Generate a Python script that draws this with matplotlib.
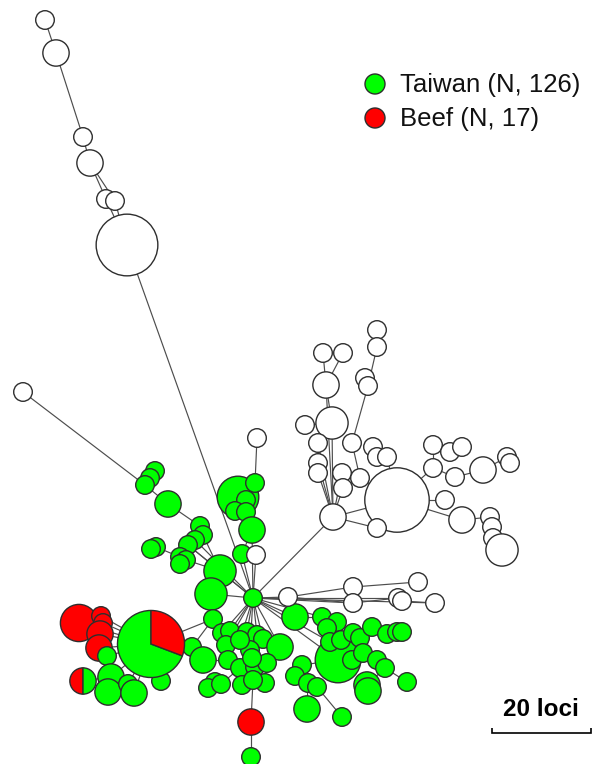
import numpy as np
import matplotlib.pyplot as plt
from matplotlib.patches import Circle, Wedge

# ===== Nodes: (id, x, y, isolates) on the layout grid =====
white_chain = [("w1", 45, 20, 1), ("w2", 56, 53, 2), ("w3", 83, 137, 1), ("w4", 90, 163, 2),
               ("w5", 106, 199, 1), ("w6", 115, 201, 1), ("w7", 127, 245, 11)]

white_misc = [("wL", 23, 392, 1), ("wT", 257, 438, 1), ("wC", 256, 555, 1),
              ("wl1", 288, 597, 1), ("wl2", 353, 587, 1), ("wl3", 418, 582, 1), ("wl4", 353, 603, 1),
              ("wl5", 398, 598, 1), ("wl6", 402, 601, 1), ("wl7", 435, 603, 1)]

white_right = [("wh", 333, 517, 2), ("wB", 397, 500, 12),
               ("a1", 377, 330, 1), ("a2", 377, 347, 1), ("a3", 323, 353, 1), ("a4", 343, 353, 1),
               ("a5", 326, 385, 2), ("a6", 365, 378, 1), ("a7", 368, 386, 1), ("a8", 332, 423, 3),
               ("a9", 305, 425, 1), ("a10", 318, 443, 1), ("a11", 352, 443, 1), ("a12", 373, 447, 1),
               ("a13", 377, 457, 1), ("a14", 387, 457, 1), ("a15", 318, 463, 1), ("a16", 318, 473, 1),
               ("a17", 342, 473, 1), ("a18", 360, 478, 1), ("a19", 343, 488, 1), ("a20", 377, 528, 1),
               ("b1", 433, 445, 1), ("b2", 450, 452, 1), ("b3", 462, 447, 1), ("b4", 433, 468, 1),
               ("b5", 455, 477, 1), ("b6", 483, 470, 2), ("b7", 507, 457, 1), ("b8", 510, 463, 1),
               ("b9", 445, 500, 1), ("b10", 462, 520, 2), ("b11", 490, 517, 1), ("b12", 492, 527, 1),
               ("b13", 493, 538, 1), ("b14", 502, 550, 3)]

beef_nodes = [("R1", 79, 623, 4), ("R2", 101, 616, 1), ("R3", 103, 623, 1), ("R4", 100, 634, 2),
              ("R5", 99, 648, 2), ("R6", 251, 722, 2)]

green_upper = [("g1", 155, 471, 1), ("g2", 150, 478, 1), ("g3", 145, 485, 1), ("g4", 168, 504, 2),
               ("g5", 200, 526, 1), ("g6", 203, 535, 1), ("g7", 195, 540, 1), ("g8", 188, 545, 1),
               ("g9", 156, 547, 1), ("g10", 151, 549, 1), ("g11", 180, 557, 1), ("g12", 186, 560, 1),
               ("g13", 180, 564, 1), ("g14", 220, 571, 3), ("g15", 211, 594, 3), ("g16", 213, 619, 1),
               ("g17", 238, 497, 5), ("g18", 255, 483, 1), ("g19", 246, 500, 1), ("g20", 235, 511, 1),
               ("g21", 246, 512, 1), ("g22", 252, 530, 2), ("g23", 242, 554, 1), ("G0", 253, 598, 1)]

green_left = [("p1", 107, 656, 1), ("p2", 111, 677, 2), ("p3", 108, 692, 2), ("p4", 128, 684, 1),
              ("p5", 134, 693, 2), ("p6", 161, 681, 1)]

green_mid = [("m1", 192, 647, 1), ("m2", 203, 660, 2), ("m3", 222, 633, 1), ("m4", 230, 631, 1),
             ("m5", 247, 632, 1), ("m6", 257, 635, 1), ("m7", 263, 639, 1), ("m8", 226, 645, 1),
             ("m9", 280, 647, 2), ("m10", 250, 650, 1), ("m11", 228, 660, 1), ("m12", 240, 668, 1),
             ("m13", 255, 667, 1), ("m14", 267, 663, 1), ("m15", 215, 682, 1), ("m16", 208, 688, 1),
             ("m17", 221, 684, 1), ("m18", 242, 685, 1), ("m19", 265, 683, 1), ("m20", 252, 658, 1),
             ("m21", 240, 640, 1), ("m22", 253, 680, 1), ("gb", 251, 757, 1)]

green_right = [("r1", 295, 617, 2), ("r2", 322, 617, 1), ("r3", 337, 622, 1), ("r4", 327, 628, 1),
               ("r5", 338, 660, 6), ("r6", 330, 642, 1), ("r7", 341, 640, 1), ("r8", 353, 633, 1),
               ("r9", 360, 638, 1), ("r10", 372, 627, 1), ("r11", 387, 634, 1), ("r12", 397, 632, 1),
               ("r13", 402, 632, 1), ("r14", 352, 660, 1), ("r15", 363, 653, 1), ("r16", 377, 660, 1),
               ("r17", 385, 668, 1), ("r18", 367, 685, 2), ("r19", 368, 691, 2), ("r20", 407, 682, 1),
               ("r21", 302, 665, 1), ("r22", 295, 676, 1), ("r23", 308, 683, 1), ("r24", 317, 687, 1),
               ("r25", 307, 709, 2), ("r26", 342, 717, 1)]

# mixed nodes: (id, x, y, taiwan, beef)
mixed_nodes = [("P", 151, 644, 9, 4), ("H", 83, 681, 1, 1)]

# ===== Links =====
edges_white = [("w1", "w2"), ("w2", "w3"), ("w3", "w4"), ("w4", "w5"), ("w4", "w6"), ("w5", "w7"),
               ("w6", "w7"), ("w7", "G0"), ("wL", "g3"), ("wT", "g18"), ("wC", "G0"),
               ("G0", "wl1"), ("wl1", "wl2"), ("wl2", "wl3"), ("wl1", "wl4"), ("wl4", "wl5"),
               ("wl5", "wl6"), ("wl6", "wl7"), ("G0", "wl4"), ("G0", "wl5"), ("G0", "wl7"),
               ("G0", "wh"), ("wh", "wB"), ("wh", "a8"), ("wh", "a15"), ("wh", "a16"), ("wh", "a17"),
               ("wh", "a19"), ("wh", "a10"), ("wh", "a5"), ("a8", "a9"), ("a8", "a5"), ("a5", "a3"),
               ("a5", "a4"), ("a8", "a10"), ("a10", "a15"), ("a11", "a7"), ("a7", "a6"), ("a7", "a2"),
               ("a2", "a1"), ("a11", "a18"), ("a12", "a13"), ("a13", "a14"), ("a14", "wB"),
               ("a17", "a19"), ("a18", "a19"), ("wB", "a20"), ("wh", "a20"), ("a18", "wB"),
               ("wB", "b4"), ("b4", "b1"), ("b1", "b2"), ("b2", "b3"), ("b4", "b5"), ("b5", "b6"),
               ("b6", "b7"), ("b7", "b8"), ("wB", "b9"), ("wB", "b10"), ("b10", "b11"),
               ("b11", "b12"), ("b12", "b13"), ("b13", "b14")]

edges_upper = [("g1", "g2"), ("g2", "g3"), ("g3", "g4"), ("g4", "g5"), ("g5", "g6"), ("g6", "g7"),
               ("g7", "g8"), ("g8", "g14"), ("g6", "g14"), ("g9", "g10"), ("g9", "g11"), ("g11", "g12"),
               ("g12", "g13"), ("g12", "g14"), ("g14", "G0"), ("g15", "G0"), ("g14", "g15"),
               ("g16", "g15"), ("g17", "g18"), ("g17", "g19"), ("g17", "g20"), ("g17", "g21"),
               ("g21", "g22"), ("g22", "G0"), ("g23", "G0"), ("g22", "g23"), ("g7", "G0"), ("g8", "G0")]

edges_lower = [("P", "g16"), ("P", "R1"), ("P", "R2"), ("P", "R3"), ("P", "R4"), ("P", "R5"),
               ("P", "p1"), ("P", "p2"), ("P", "p4"), ("P", "p5"), ("P", "p6"), ("R1", "R2"),
               ("R2", "R3"), ("R3", "R4"), ("R4", "R5"), ("R5", "p1"), ("H", "p2"), ("p2", "p3"),
               ("p3", "p5"), ("p4", "p5"),
               ("G0", "m3"), ("G0", "m4"), ("G0", "m5"), ("G0", "m6"), ("G0", "m7"), ("G0", "m8"),
               ("G0", "m21"), ("G0", "m9"), ("G0", "m10"), ("m1", "g16"), ("m1", "m2"), ("m2", "m11"),
               ("m8", "m11"), ("m11", "m12"), ("m12", "m18"), ("m15", "m16"), ("m15", "m17"),
               ("m17", "m12"), ("m10", "m20"), ("m20", "m13"), ("m13", "m22"), ("m14", "m19"),
               ("m20", "m14"), ("m22", "R6"), ("R6", "gb"),
               ("G0", "r1"), ("G0", "r5"), ("G0", "r6"), ("G0", "r2"), ("r1", "r2"), ("r2", "r3"),
               ("r2", "r4"), ("r4", "r6"), ("r6", "r7"), ("r5", "r8"), ("r8", "r9"), ("r9", "r10"),
               ("r10", "r11"), ("r11", "r12"), ("r12", "r13"), ("r5", "r14"), ("r14", "r15"),
               ("r15", "r16"), ("r16", "r17"), ("r17", "r18"), ("r18", "r19"), ("r17", "r20"),
               ("r5", "r21"), ("r21", "r22"), ("r22", "r23"), ("r23", "r24"), ("r23", "r25"),
               ("r24", "r26")]

legend_labels = ["Taiwan (N, 126)", "Beef (N, 17)"]
scale_label = "20 loci"

# ===== Style =====
GREEN = "#00ff00"
RED = "#ff0000"
WHITE = "#ffffff"
EDGE = "#4d4d4d"
OUTLINE = "#2e2e2e"
R_UNIT = 9.3  # radius of a single-isolate node

plt.rcParams['font.family'] = ['Liberation Sans', 'DejaVu Sans']

# id -> (x, y, [(count, colour), ...])
nodes = {}
for group, col in [(white_chain, WHITE), (white_misc, WHITE), (white_right, WHITE),
                   (beef_nodes, RED), (green_upper, GREEN), (green_left, GREEN),
                   (green_mid, GREEN), (green_right, GREEN)]:
    for nid, x, y, n in group:
        nodes[nid] = (x, y, [(n, col)])
for nid, x, y, tw, bf in mixed_nodes:
    nodes[nid] = (x, y, [(bf, RED), (tw, GREEN)])

fig = plt.figure(figsize=(5.92, 7.64), dpi=100)
ax = fig.add_axes([0, 0, 1, 1])
ax.set_xlim(0, 592)
ax.set_ylim(764, 0)
ax.set_aspect('equal')
ax.axis('off')

# links under the nodes
for a, b in edges_white + edges_upper + edges_lower:
    xa, ya, _ = nodes[a]
    xb, yb, _ = nodes[b]
    ax.plot([xa, xb], [ya, yb], color=EDGE, lw=0.85, zorder=1, solid_capstyle='butt')

def draw_node(x, y, parts, z):
    total = sum(n for n, _ in parts)
    r = R_UNIT * np.sqrt(total)
    if len(parts) == 1:
        ax.add_patch(Circle((x, y), r, facecolor=parts[0][1], edgecolor=OUTLINE, lw=1.0, zorder=z))
        return
    # slices go anticlockwise from 12 o'clock, biggest first (y axis is flipped)
    order = sorted(parts, key=lambda p: -p[0])
    start = 270.0
    for n, col in order:
        ext = 360.0 * n / total
        ax.add_patch(Wedge((x, y), r, start - ext, start, facecolor=col,
                           edgecolor=OUTLINE, lw=1.0, zorder=z))
        start -= ext

z = 2
for group in [beef_nodes, green_upper, green_left, green_mid, green_right, mixed_nodes,
              white_chain, white_misc, white_right]:
    for rec in group:
        x, y, parts = nodes[rec[0]]
        draw_node(x, y, parts, z)
        z += 0.01

# legend
for i, (lab, col) in enumerate(zip(legend_labels, [GREEN, RED])):
    ly = 84 + 34 * i
    ax.add_patch(Circle((375, ly), 10, facecolor=col, edgecolor=OUTLINE, lw=1.0, zorder=5))
    ax.text(400, ly + 1, lab, fontsize=18.5, va='center', ha='left', color='#111111')

# scale bar
ax.plot([492, 492, 591, 591], [728, 733, 733, 728], color='black', lw=1.2,
        solid_capstyle='butt', solid_joinstyle='miter')
ax.text(541, 710, scale_label, fontsize=17.5, weight='bold', ha='center', va='center')

fig.savefig('out.png', dpi=100)
